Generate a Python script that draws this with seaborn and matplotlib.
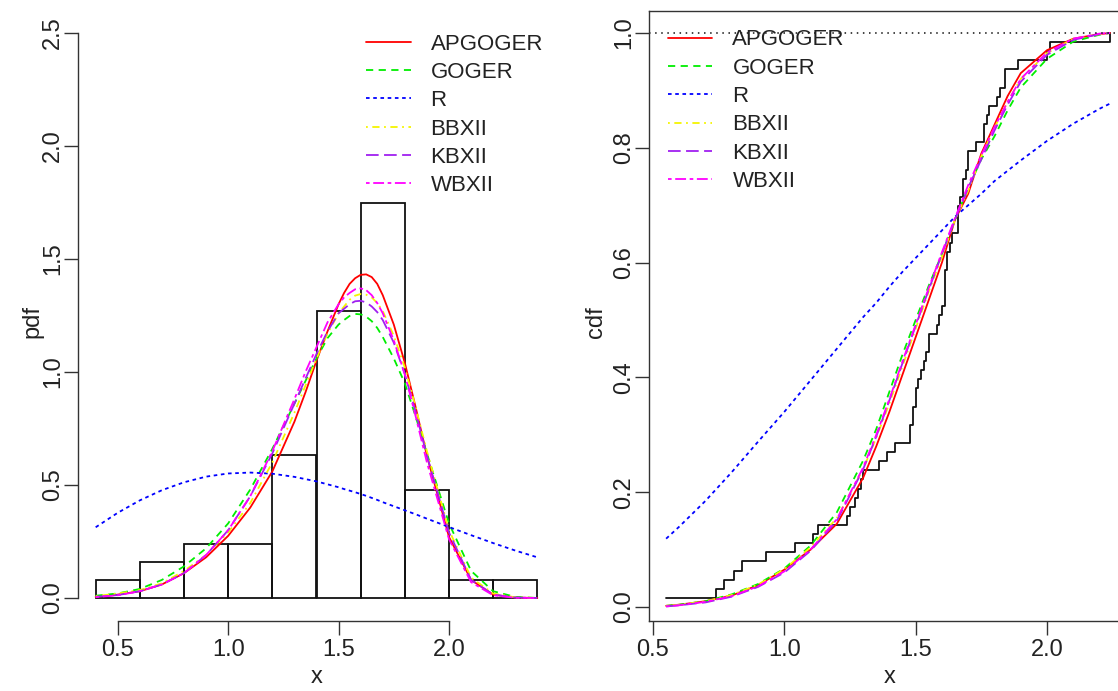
import matplotlib
matplotlib.use("Agg")
import matplotlib.pyplot as plt
import seaborn as sns

# histogram of the fibre data (counts per 0.2 bin, density = count / (63 * 0.2))
bin_edges = [0.4, 0.6, 0.8, 1.0, 1.2, 1.4, 1.6, 1.8, 2.0, 2.2, 2.4]
bin_mids = [0.5, 0.7, 0.9, 1.1, 1.3, 1.5, 1.7, 1.9, 2.1, 2.3]
bin_counts = [1, 2, 3, 3, 8, 16, 22, 6, 1, 1]

obs = [0.55, 0.74, 0.77, 0.81, 0.84, 0.93, 1.04, 1.11, 1.13, 1.24, 1.25, 1.27,
       1.28, 1.29, 1.30, 1.36, 1.39, 1.42, 1.48, 1.48, 1.49, 1.49, 1.50, 1.50,
       1.51, 1.52, 1.53, 1.54, 1.55, 1.55, 1.58, 1.59, 1.60, 1.61, 1.61, 1.61,
       1.61, 1.62, 1.62, 1.63, 1.64, 1.66, 1.66, 1.66, 1.67, 1.68, 1.68, 1.69,
       1.70, 1.70, 1.73, 1.76, 1.76, 1.77, 1.78, 1.81, 1.82, 1.84, 1.84, 1.89,
       2.00, 2.01, 2.24]
ecdf = [1, 2, 3, 4, 5, 6, 7, 8, 9, 10, 11, 12, 13, 14, 15, 16, 17, 18, 19, 20,
        21, 22, 23, 24, 25, 26, 27, 28, 29, 30, 31, 32, 33, 34, 35, 36, 37, 38,
        39, 40, 41, 42, 43, 44, 45, 46, 47, 48, 49, 50, 51, 52, 53, 54, 55, 56,
        57, 58, 59, 60, 61, 62, 63]

models = ["APGOGER", "GOGER", "R", "BBXII", "KBXII", "WBXII"]
colors = ["#ff0000", "#00ee00", "#0000ff", "#f5f500", "#a020f0", "#ff00ff"]
styles = ["-", (0, (4, 3)), (0, (2, 2)), (0, (1, 2.5, 4, 2.5)), (0, (7, 3)), (0, (2, 2, 6, 2))]

# fitted pdfs
x_pdf = [0.4, 0.5, 0.6, 0.7, 0.8, 0.9, 1.0, 1.1, 1.2, 1.3, 1.35, 1.4, 1.45, 1.5, 1.525,
         1.55, 1.575, 1.6, 1.625, 1.65, 1.675, 1.7, 1.75, 1.8, 1.85, 1.9, 2.0, 2.1, 2.2, 2.3, 2.4]
pdf_apgoger = [0.005, 0.015, 0.03, 0.06, 0.11, 0.18, 0.275, 0.40, 0.56, 0.78, 0.91, 1.05, 1.18, 1.30, 1.35,
               1.39, 1.415, 1.43, 1.432, 1.42, 1.39, 1.34, 1.21, 1.04, 0.84, 0.63, 0.27, 0.08, 0.015, 0.002, 0.0]
pdf_goger = [0.01, 0.02, 0.04, 0.08, 0.14, 0.22, 0.33, 0.48, 0.66, 0.86, 0.96, 1.06, 1.15, 1.21, 1.23,
             1.248, 1.257, 1.255, 1.245, 1.225, 1.195, 1.155, 1.06, 0.95, 0.80, 0.64, 0.33, 0.12, 0.03, 0.005, 0.0]
pdf_r = [0.313, 0.377, 0.432, 0.477, 0.512, 0.537, 0.551, 0.555, 0.55, 0.536, 0.526, 0.516, 0.503, 0.49, 0.482,
         0.475, 0.468, 0.46, 0.452, 0.443, 0.434, 0.424, 0.406, 0.388, 0.37, 0.351, 0.314, 0.278, 0.243, 0.21, 0.18]
pdf_bbxii = [0.008, 0.02, 0.035, 0.065, 0.12, 0.19, 0.29, 0.42, 0.60, 0.82, 0.94, 1.06, 1.17, 1.26, 1.29,
             1.32, 1.338, 1.345, 1.342, 1.33, 1.305, 1.27, 1.16, 1.02, 0.84, 0.65, 0.30, 0.09, 0.02, 0.003, 0.0]
pdf_kbxii = [0.005, 0.013, 0.03, 0.06, 0.11, 0.19, 0.30, 0.45, 0.64, 0.86, 0.97, 1.08, 1.18, 1.26, 1.28,
             1.30, 1.313, 1.315, 1.308, 1.29, 1.265, 1.23, 1.13, 0.99, 0.82, 0.63, 0.29, 0.08, 0.015, 0.002, 0.0]
pdf_wbxii = [0.004, 0.012, 0.03, 0.06, 0.11, 0.19, 0.30, 0.45, 0.65, 0.88, 1.00, 1.11, 1.22, 1.30, 1.33,
             1.35, 1.366, 1.37, 1.362, 1.34, 1.305, 1.26, 1.14, 0.99, 0.80, 0.60, 0.26, 0.07, 0.012, 0.001, 0.0]

# fitted cdfs
x_cdf = [0.55, 0.6, 0.7, 0.8, 0.9, 1.0, 1.1, 1.2, 1.3, 1.35, 1.4, 1.45, 1.5, 1.55,
         1.6, 1.65, 1.7, 1.75, 1.8, 1.85, 1.9, 2.0, 2.1, 2.2, 2.24]
cdf_apgoger = [0.002, 0.004, 0.01, 0.02, 0.038, 0.065, 0.10, 0.145, 0.225, 0.28, 0.34, 0.405, 0.47, 0.535,
               0.60, 0.675, 0.72, 0.79, 0.84, 0.89, 0.93, 0.97, 0.99, 0.998, 1.0]
cdf_goger = [0.002, 0.004, 0.01, 0.022, 0.04, 0.067, 0.107, 0.165, 0.255, 0.31, 0.375, 0.44, 0.50, 0.56,
             0.615, 0.675, 0.73, 0.78, 0.82, 0.865, 0.905, 0.955, 0.985, 0.997, 1.0]
cdf_r = [0.119, 0.14, 0.185, 0.235, 0.288, 0.34, 0.395, 0.45, 0.505, 0.53, 0.558, 0.584, 0.608, 0.632,
         0.656, 0.68, 0.70, 0.72, 0.742, 0.76, 0.778, 0.812, 0.842, 0.868, 0.877]
cdf_bbxii = [0.002, 0.004, 0.01, 0.021, 0.039, 0.066, 0.104, 0.155, 0.24, 0.295, 0.355, 0.42, 0.485, 0.55,
             0.61, 0.675, 0.725, 0.785, 0.835, 0.88, 0.92, 0.965, 0.99, 0.998, 1.0]
cdf_kbxii = [0.001, 0.003, 0.008, 0.018, 0.035, 0.06, 0.098, 0.15, 0.24, 0.297, 0.36, 0.425, 0.49, 0.553,
             0.615, 0.675, 0.73, 0.78, 0.83, 0.875, 0.915, 0.962, 0.988, 0.998, 1.0]
cdf_wbxii = [0.001, 0.003, 0.009, 0.019, 0.036, 0.062, 0.10, 0.153, 0.243, 0.30, 0.362, 0.428, 0.492, 0.556,
             0.618, 0.678, 0.735, 0.787, 0.836, 0.88, 0.92, 0.966, 0.99, 0.999, 1.0]

pdfs = [pdf_apgoger, pdf_goger, pdf_r, pdf_bbxii, pdf_kbxii, pdf_wbxii]
cdfs = [cdf_apgoger, cdf_goger, cdf_r, cdf_bbxii, cdf_kbxii, cdf_wbxii]

sns.set_style("ticks")
plt.rcParams["font.family"] = ["Liberation Sans", "DejaVu Sans"]
axis_col = "#333333"
plt.rcParams.update({"axes.edgecolor": axis_col, "xtick.color": axis_col, "ytick.color": axis_col,
                     "xtick.labelcolor": "#222222", "ytick.labelcolor": "#222222",
                     "axes.linewidth": 1.0, "text.color": "#222222", "axes.labelcolor": "#222222"})

W, H = 1118, 691
fig = plt.figure(figsize=(W / 100, H / 100), dpi=100)

def px_axes(l, t, r, b):
    return fig.add_axes([l / W, 1 - b / H, (r - l) / W, (b - t) / H])

ax1 = px_axes(78, 10.4, 555, 620.6)
ax2 = px_axes(649, 11, 1130, 621)

lw = 1.3
# left: histogram + fitted densities
sns.histplot(x=bin_mids, weights=bin_counts, bins=bin_edges, stat="density", fill=False,
             color="#111111", linewidth=1.3, ax=ax1)
for name, c, ls, ys in zip(models, colors, styles, pdfs):
    sns.lineplot(x=x_pdf, y=ys, color=c, linestyle=ls, linewidth=lw, label=name, ax=ax1)
ax1.set_xlim(0.32, 2.48)
ax1.set_ylim(-0.1, 2.6)
ax1.set_xticks([0.5, 1.0, 1.5, 2.0])
ax1.set_yticks([0.0, 0.5, 1.0, 1.5, 2.0, 2.5])
ax1.spines["top"].set_visible(False)
ax1.spines["right"].set_visible(False)
ax1.spines["left"].set_bounds(0, 2.5)
ax1.spines["bottom"].set_bounds(0.5, 2.0)
ax1.set_ylabel("pdf", fontsize=17)
ax1.set_xlabel("x", fontsize=17)
ax1.yaxis.set_label_coords(-0.072, 0.49)
ax1.xaxis.set_label_coords(0.5, -0.074)

# right: empirical cdf + fitted cdfs
ax2.step(obs, [k / 63 for k in ecdf], where="post", color="#111111", linewidth=1.3)
for name, c, ls, ys in zip(models, colors, styles, cdfs):
    sns.lineplot(x=x_cdf, y=ys, color=c, linestyle=ls, linewidth=lw, label=name, ax=ax2)
ax2.axhline(1.0, color="#111111", linestyle=(0, (1, 3)), linewidth=1.1)
ax2.set_xlim(0.4848, 2.316)
ax2.set_ylim(-0.0244, 1.0383)
ax2.set_xticks([0.5, 1.0, 1.5, 2.0])
ax2.set_yticks([0.0, 0.2, 0.4, 0.6, 0.8, 1.0])
ax2.set_ylabel("cdf", fontsize=17)
ax2.set_xlabel("x", fontsize=17)
ax2.yaxis.set_label_coords(-0.088, 0.49)
ax2.xaxis.set_label_coords(0.5, -0.074)

for ax in (ax1, ax2):
    ax.xaxis.set_major_formatter(matplotlib.ticker.FormatStrFormatter("%.1f"))
    ax.yaxis.set_major_formatter(matplotlib.ticker.FormatStrFormatter("%.1f"))
    ax.tick_params(axis="both", direction="out", length=10, width=1.0, labelsize=17)
    ax.tick_params(axis="x", pad=3)
    ax.tick_params(axis="y", pad=0, labelrotation=90)
    for lab in ax.get_yticklabels():
        lab.set_va("center")

leg_kw = dict(frameon=False, fontsize=16, handlelength=2.0, handletextpad=0.9,
              labelspacing=0.33, borderpad=0, borderaxespad=0, loc="upper left")
ax1.legend(bbox_to_anchor=(0.604, 0.962), **leg_kw)
ax2.legend(bbox_to_anchor=(0.0395, 0.970), **leg_kw)

fig.savefig("out.png", dpi=100)
